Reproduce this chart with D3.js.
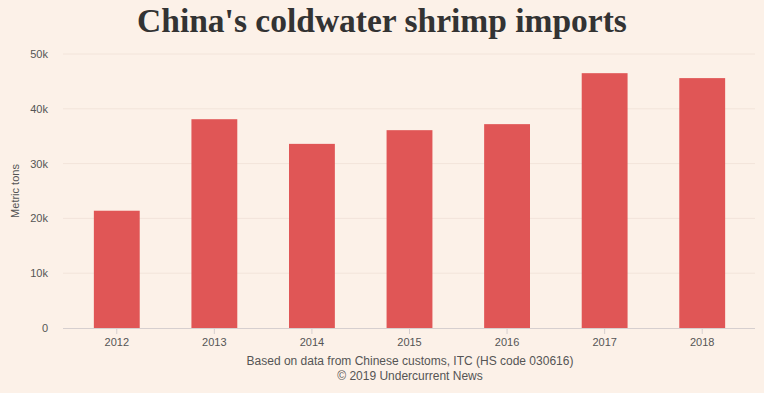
<!DOCTYPE html>
<html>
<head>
<meta charset="utf-8">
<script src="https://cdn.jsdelivr.net/npm/d3@7"></script>
<style>
  body { margin: 0; background: #fcf1e8; }
  svg { display: block; }
</style>
</head>
<body>
<div id="chart"></div>
<script>
const width = 764,
  height = 393,
  margin = { top: 54, bottom: 65, left: 63, right: 9 };

// data
const years = ["2012", "2013", "2014", "2015", "2016", "2017", "2018"];
const tons = [21400, 38100, 33600, 36100, 37200, 46500, 45600];
const yTicks = [0, 10000, 20000, 30000, 40000, 50000];

const data = years.map((y, i) => ({ year: y, value: tons[i] }));

/* SCALES */
const xScale = d3.scaleBand()
  .domain(years)
  .range([68, 751])
  .paddingInner(0.53)
  .paddingOuter(0.265);

const yScale = d3.scaleLinear()
  .domain([0, 50000])
  .range([height - margin.bottom, margin.top]);

const svg = d3.select("#chart")
  .append("svg")
  .attr("width", width)
  .attr("height", height)
  .style("background-color", "#fcf1e8");

// title
svg.append("text")
  .attr("x", 382)
  .attr("y", 32)
  .attr("text-anchor", "middle")
  .attr("font-family", "'Liberation Serif', 'DejaVu Serif', serif")
  .attr("font-weight", "bold")
  .attr("font-size", "33.5px")
  .attr("fill", "#333333")
  .text("China's coldwater shrimp imports");

// gridlines
svg.append("g")
  .selectAll("line")
  .data(yTicks.filter(d => d > 0))
  .join("line")
  .attr("x1", margin.left)
  .attr("x2", width - margin.right)
  .attr("y1", d => yScale(d))
  .attr("y2", d => yScale(d))
  .attr("stroke", "#f2e4da")
  .attr("stroke-width", 1);

// y axis
const yAxis = d3.axisLeft(yScale)
  .tickValues(yTicks)
  .tickSize(0)
  .tickPadding(15)
  .tickFormat(d => d === 0 ? "0" : (d / 1000) + "k");

const yAxisGroup = svg.append("g")
  .attr("transform", `translate(${margin.left}, 0)`)
  .call(yAxis);
yAxisGroup.select(".domain").remove();
yAxisGroup.selectAll("text")
  .attr("fill", "#555555")
  .attr("font-family", "'Liberation Sans', Arial, sans-serif")
  .attr("font-size", "11px");

svg.append("text")
  .attr("transform", `translate(19, ${yScale(25000)}) rotate(-90)`)
  .attr("text-anchor", "middle")
  .attr("font-family", "'Liberation Sans', Arial, sans-serif")
  .attr("font-size", "11px")
  .attr("fill", "#555555")
  .text("Metric tons");

// bars
svg.append("g")
  .selectAll("rect")
  .data(data)
  .join("rect")
  .attr("x", d => xScale(d.year))
  .attr("y", d => yScale(d.value))
  .attr("width", xScale.bandwidth())
  .attr("height", d => yScale(0) - yScale(d.value))
  .attr("fill", "#e05656");

// x axis
const xAxis = d3.axisBottom(xScale)
  .tickSize(6)
  .tickPadding(4);

const xAxisGroup = svg.append("g")
  .attr("transform", `translate(0, ${yScale(0)})`)
  .call(xAxis);
xAxisGroup.select(".domain")
  .attr("d", `M${margin.left},0.5H${width - margin.right}`)
  .attr("stroke", "#d6cfcf");
xAxisGroup.selectAll(".tick line").attr("stroke", "#d6cfcf");
xAxisGroup.selectAll("text")
  .attr("fill", "#555555")
  .attr("font-family", "'Liberation Sans', Arial, sans-serif")
  .attr("font-size", "11px");

// source
const source = svg.append("text")
  .attr("text-anchor", "middle")
  .attr("font-family", "'Liberation Sans', Arial, sans-serif")
  .attr("font-size", "12px")
  .attr("fill", "#555555");
source.append("tspan").attr("x", 410).attr("y", 365)
  .text("Based on data from Chinese customs, ITC (HS code 030616)");
source.append("tspan").attr("x", 410).attr("y", 380)
  .text("© 2019 Undercurrent News");
</script>
</body>
</html>
